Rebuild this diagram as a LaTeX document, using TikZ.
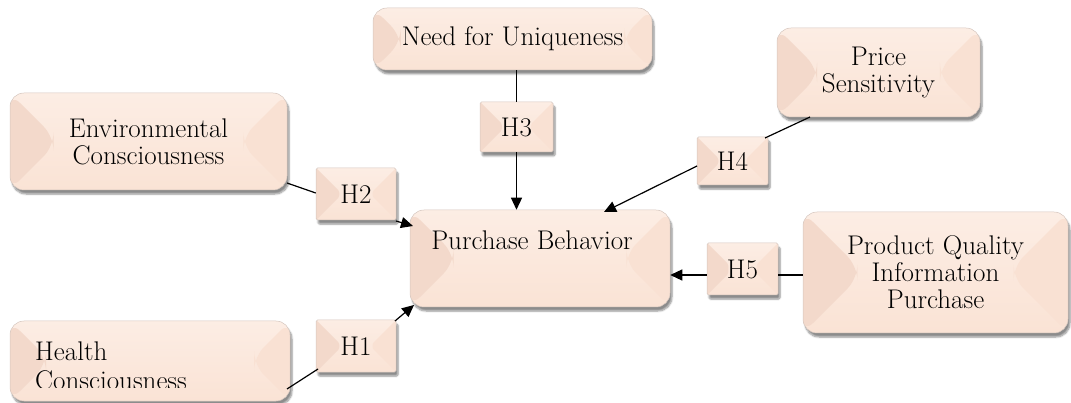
\documentclass[tikz,border=0pt]{standalone}
\usetikzlibrary{shadows.blur,arrows.meta,calc}
\definecolor{face}{HTML}{FAE3D5}
\definecolor{facetop}{HTML}{FCEDE4}
\definecolor{bevL}{HTML}{F3D9CB}
\definecolor{bevR}{HTML}{F9E1D3}
\definecolor{edge}{HTML}{D5C6BE}
\tikzset{
  x=1pt,y=-1pt,
  bevbox/.style={draw=edge, line width=0.5pt, top color=facetop, bottom color=face,
    blur shadow={shadow xshift=2pt, shadow yshift=-4pt, shadow blur steps=6, shadow opacity=45},
    inner sep=0pt, align=center, font=\fontsize{27}{27}\selectfont,
    path picture={
      \fill[bevL] let \p1=(path picture bounding box.south west), \p2=(path picture bounding box.north east),
        \n1={min(0.45*(\y2-\y1),0.3*(\x2-\x1))} in
        (\x1,\y1) -- (\x1,\y2) -- (\x1+\n1,\y2-\n1) -- (\x1+\n1,\y1+\n1) -- cycle;
      \fill[bevR] let \p1=(path picture bounding box.south west), \p2=(path picture bounding box.north east),
        \n1={min(0.45*(\y2-\y1),0.3*(\x2-\x1))} in
        (\x2,\y1) -- (\x2,\y2) -- (\x2-\n1,\y2-\n1) -- (\x2-\n1,\y1+\n1) -- cycle;
    }},
  bigbox/.style={bevbox, rounded corners=14pt},
  hbox/.style={bevbox, rounded corners=1.5pt, minimum width=80pt, minimum height=52pt},
  lbl/.style={font=\fontsize{27}{27}\selectfont, inner sep=0pt},
  conn/.style={line width=1.2pt},
  arr/.style={conn, -{Triangle[length=12pt,width=11pt]}},
}
\begin{document}
\begin{tikzpicture}
\useasboundingbox (0,0) rectangle (1071,403);
% main boxes
\node[bigbox, minimum width=277pt, minimum height=97pt] (env) at (148.5,141.5) {Environmental\\Consciousness};
\node[bigbox, minimum width=279pt, minimum height=62pt] (nfu) at (512.5,39) {Need for Uniqueness};
\node[bigbox, minimum width=203pt, minimum height=89pt] (ps) at (878.5,72.5) {Price\\Sensitivity};
\node[bigbox, minimum width=260pt, minimum height=97pt] (pb) at (540,258.5) {};
\node[lbl, anchor=base] (pbt) at (532,250) {Purchase Behavior};
\node[bigbox, minimum width=265pt, minimum height=121pt] (pq) at (935.5,272.5) {Product Quality\\Information\\Purchase};
\node[bigbox, minimum width=280pt, minimum height=80pt] (hc) at (150,361) {};
\begin{scope}
\clip (0,0) rectangle (1071,387);
\node[lbl, anchor=base west, align=left, font=\fontsize{27}{29}\selectfont] (hct) at (35,389) {Health\\Consciousness};
\end{scope}
% hypothesis boxes
\node[hbox] (h1) at (356,346) {H1};
\node[hbox] (h2) at (356,194) {H2};
\node[hbox, minimum width=73pt, minimum height=50pt] (h3) at (516.5,127) {H3};
\node[hbox, minimum width=71pt, minimum height=48pt] (h4) at (732.5,161) {H4};
\node[hbox, minimum width=71pt, minimum height=52pt] (h5) at (742.5,269) {H5};
% connectors
\draw[conn] (nfu.south -| h3.north) -- (h3.north);
\draw[arr] (h3.south) -- (h3.south |- pb.north);
\coordinate (envp) at (287,183);
\draw[conn] (envp) -- (h2.west |- 0,193);
\draw[arr] (396,221) -- (413,226);
\coordinate (hcp) at (287,389);
\draw[conn] (hcp) -- (318,369);
\draw[arr] (395,321) -- (414,305);
\draw[conn] (810,117) -- (765,138);
\draw[arr] (697,166) -- (604,212);
\draw[conn] (pq.west |- 0,275) -- (h5.east |- 0,275);
\draw[arr] (h5.west |- 0,275) -- (pb.east |- 0,275);
\end{tikzpicture}
\end{document}
